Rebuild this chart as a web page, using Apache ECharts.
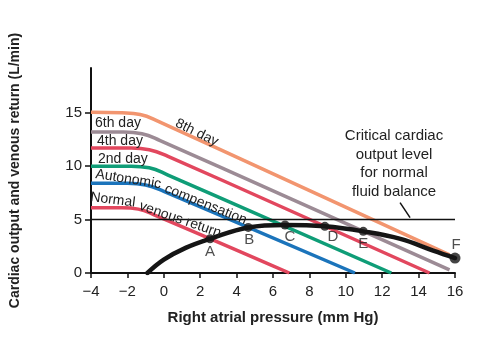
<!DOCTYPE html>
<html>
<head>
<meta charset="utf-8">
<script src="https://cdn.jsdelivr.net/npm/echarts@6/dist/echarts.min.js"></script>
<style>
  html, body { margin: 0; padding: 0; background: #fff; }
  #chart { width: 502px; height: 350px; }
</style>
</head>
<body>
<div id="chart"></div>
<script>
  // venous return curves (x: right atrial pressure, y: L/min)
  const normalReturn = [[-4, 6.1], [-2.3, 6.1], [-1.4, 5.98], [-0.5, 5.43], [6.9, 0]]
  const autonomic = [[-4, 8.4], [-2, 8.4], [-1, 8.25], [0, 7.65], [10.5, 0]]
  const day2 = [[-4, 10], [-1.8, 10], [-0.8, 9.85], [0.2, 9.2], [12.5, 0]]
  const day4 = [[-4, 11.7], [-1.8, 11.7], [-0.8, 11.55], [0.2, 10.95], [14.6, 0]]
  const day6 = [[-4, 13.2], [-2.2, 13.2], [-1.2, 13.05], [-0.2, 12.4], [15.7, 0.3]]
  const day8 = [[-4, 15.05], [-2.3, 15], [-1.3, 14.85], [-0.3, 14.2], [15.7, 1.7]]

  // cardiac output curve
  const cardiacOutput = [[-0.9, 0], [0, 1.25], [1.2, 2.35], [2.54, 3.2], [4.64, 4.27], [6.66, 4.5],
    [8.85, 4.37], [10.96, 3.9], [13, 3.2], [14.8, 2.1], [16, 1.4]]

  // equilibrium points
  const pointNames = ['A', 'B', 'C', 'D', 'E', 'F']
  const pointX = [2.54, 4.64, 6.66, 8.85, 10.96, 16]
  const pointY = [3.2, 4.27, 4.5, 4.37, 3.9, 1.4]

  const criticalLevel = 5
  const xRange = [-4, 16]
  const yTicks = [0, 5, 10, 15]

  const font = "'Liberation Sans', Arial, Helvetica, sans-serif"
  const red = '#e2475e'

  const labelOffsets = [[0, 13], [1, 12], [5, 12], [8, 11], [0, 12], [1, -13]]

  function venous(name, data, color) {
    return {
      name: name,
      type: 'line',
      data: data,
      smooth: 0.45,
      showSymbol: false,
      silent: true,
      lineStyle: { color: color, width: 3.5, cap: 'butt' },
      z: 2
    }
  }

  const chart = echarts.init(document.getElementById('chart'))
  chart.setOption({
    animation: false,
    backgroundColor: '#fff',
    textStyle: { fontFamily: font },
    grid: { left: 91, right: 47, top: 68, bottom: 77, outerBoundsMode: 'none' },
    xAxis: {
      type: 'value',
      min: xRange[0],
      max: xRange[1],
      interval: 2,
      splitLine: { show: false },
      axisLine: { onZero: false, lineStyle: { color: '#111', width: 2 } },
      axisTick: { length: 5, lineStyle: { color: '#111', width: 1.5 } },
      axisLabel: {
        color: '#222', fontSize: 15, margin: 11, fontFamily: font,
        formatter: v => String(v).replace('-', '\u2212')
      },
      name: 'Right atrial pressure (mm Hg)',
      nameLocation: 'middle',
      nameGap: 37,
      nameTextStyle: { color: '#222', fontSize: 15, fontWeight: 'bold', fontFamily: font }
    },
    yAxis: {
      type: 'value',
      min: 0,
      max: 19.2,
      interval: 5,
      splitLine: { show: false },
      axisLine: { show: true, onZero: false, lineStyle: { color: '#111', width: 2 } },
      axisTick: { show: true, length: 6, customValues: yTicks, lineStyle: { color: '#111', width: 1.5 } },
      axisLabel: { color: '#222', fontSize: 15, margin: 9, fontFamily: font, customValues: yTicks },
      name: 'Cardiac output and venous return (L/min)',
      nameLocation: 'middle',
      nameGap: 69,
      nameTextStyle: { color: '#222', fontSize: 14, fontWeight: 'bold', fontFamily: font }
    },
    series: [
      venous('Normal venous return', normalReturn, red),
      venous('Autonomic compensation', autonomic, '#1b74bb'),
      venous('2nd day', day2, '#0f9d77'),
      venous('4th day', day4, red),
      venous('6th day', day6, '#9c8b95'),
      venous('8th day', day8, '#f2956f'),
      {
        name: 'Critical',
        type: 'line',
        data: [[xRange[0], criticalLevel], [xRange[1], criticalLevel]],
        showSymbol: false,
        silent: true,
        lineStyle: { color: '#111', width: 1.5 },
        z: 3
      },
      {
        name: 'Cardiac output',
        type: 'line',
        data: cardiacOutput,
        smooth: 0.4,
        showSymbol: false,
        silent: true,
        lineStyle: { color: '#151515', width: 4.5, cap: 'round' },
        z: 4
      },
      {
        name: 'Points',
        type: 'scatter',
        data: pointX.map((x, i) => ({
          value: [x, pointY[i]],
          name: pointNames[i],
          symbolSize: i === 5 ? 11 : 9,
          label: { offset: labelOffsets[i] }
        })),
        itemStyle: { color: '#151515' },
        label: {
          show: true,
          position: 'inside',
          formatter: p => p.name,
          color: '#222',
          fontSize: 15,
          fontFamily: font
        },
        z: 5
      }
    ]
  })

  // text annotations placed in data coordinates
  const toPx = p => chart.convertToPixel({ gridIndex: 0 }, p)
  const curveLabels = [
    { text: '6th day', at: [-3.78, 14.0], rot: 0, align: 'left' },
    { text: '4th day', at: [-3.67, 12.33], rot: 0, align: 'left' },
    { text: '2nd day', at: [-3.62, 10.71], rot: 0, align: 'left' },
    { text: '8th day', at: [1.82, 13.15], rot: 26, align: 'center' },
    { text: 'Autonomic', at: [-1.95, 8.78], rot: 9, align: 'center' },
    { text: 'compensation', at: [2.3, 6.42], rot: 22, align: 'center' },
    { text: 'Normal', at: [-2.8, 6.84], rot: 7, align: 'center' },
    { text: 'venous return', at: [0.9, 5.0], rot: 19, align: 'center' }
  ]
  const graphics = curveLabels.map(l => {
    const p = toPx(l.at)
    return {
      type: 'text',
      x: p[0],
      y: p[1],
      rotation: -l.rot * Math.PI / 180,
      silent: true,
      z: 10,
      style: {
        text: l.text, fill: '#222', fontSize: 14, fontFamily: font,
        textAlign: l.align, textVerticalAlign: 'middle'
      }
    }
  })
  const crit = toPx([12.65, 12.87])
  graphics.push({
    type: 'text',
    x: crit[0],
    y: crit[1] - 9,
    silent: true,
    z: 10,
    style: {
      text: 'Critical cardiac\noutput level\nfor normal\nfluid balance',
      fill: '#222', fontSize: 15, fontFamily: font, lineHeight: 18.7,
      textAlign: 'center', textVerticalAlign: 'top'
    }
  })
  const p1 = toPx([12.98, 6.59])
  const p2 = toPx([13.53, 5.18])
  graphics.push({
    type: 'line',
    silent: true,
    z: 10,
    shape: { x1: p1[0], y1: p1[1], x2: p2[0], y2: p2[1] },
    style: { stroke: '#111', lineWidth: 1.5 }
  })
  chart.setOption({ graphic: graphics })
</script>
</body>
</html>
